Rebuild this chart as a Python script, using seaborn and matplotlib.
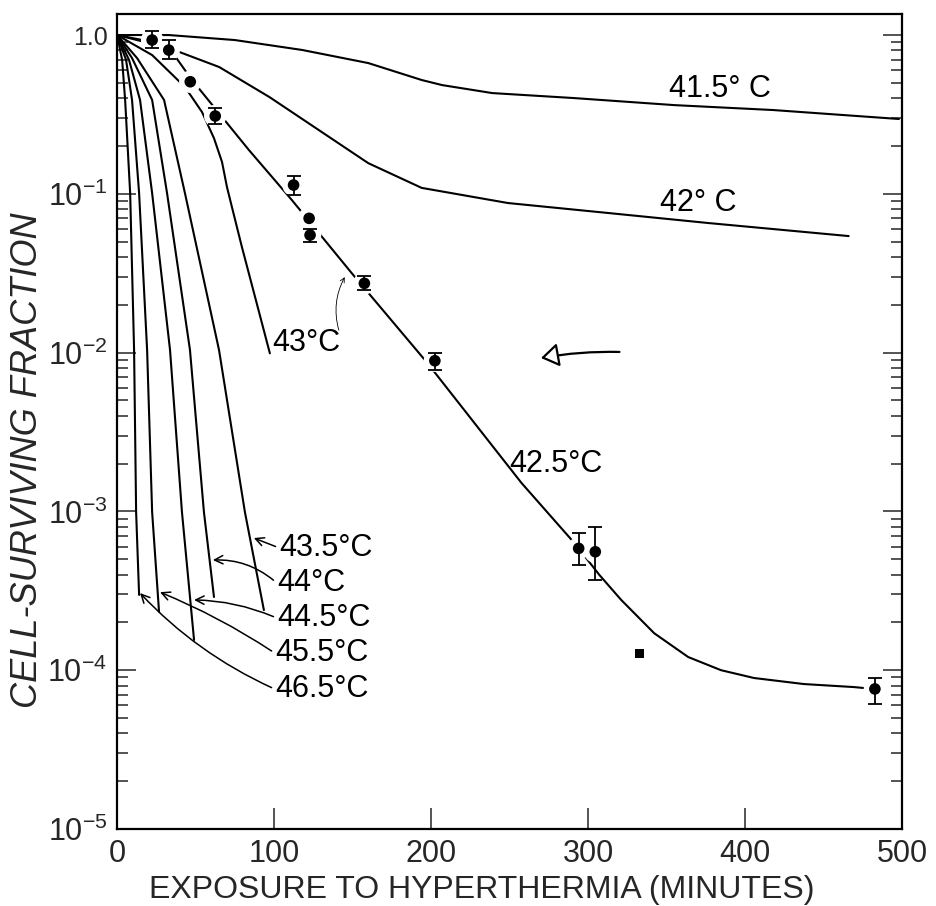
import matplotlib
matplotlib.use("Agg")
import matplotlib.pyplot as plt
import numpy as np
import pandas as pd
import seaborn as sns
from matplotlib.ticker import FixedLocator, LogLocator, NullFormatter

# --- curves: minutes vs surviving fraction ---
t_415 = [0, 33, 75, 118, 160, 194, 207, 239, 291, 355, 418, 498]
s_415 = [1.0, 1.0, 0.93, 0.805, 0.666, 0.521, 0.484, 0.431, 0.401, 0.362, 0.337, 0.296]

t_42 = [0, 33, 65, 97, 128.5, 160, 194, 249, 313, 376.5, 466]
s_42 = [1.0, 0.828, 0.629, 0.407, 0.252, 0.156, 0.109, 0.0875, 0.0757, 0.0655, 0.0542]

t_425 = [0, 22.3, 35, 47.7, 83.9, 111.3, 149.4, 197.1, 257.6, 291.3, 307.2,
         321.1, 342.1, 363.8, 384.7, 405.7, 437.5, 469.3, 482]
s_425 = [1.0, 0.904, 0.782, 0.521, 0.189, 0.0914, 0.0317, 0.00873, 0.00151,
         6.32e-4, 3.98e-4, 2.77e-4, 1.71e-4, 1.21e-4, 1.0e-4, 8.93e-5,
         8.18e-5, 7.83e-5, 7.62e-5]

t_43 = [0, 22.3, 43.2, 54.1, 61.7, 66.8, 70.0, 74.4, 79.5, 88.4, 97.3]
s_43 = [1.0, 0.748, 0.471, 0.327, 0.224, 0.159, 0.110, 0.0735, 0.0462, 0.0214, 0.0099]

t_435 = [0, 12.7, 29.9, 43.2, 64.9, 81.4, 93.5]
s_435 = [1.0, 0.716, 0.390, 0.101, 0.0104, 9.9e-4, 2.39e-4]

t_44 = [0, 9.5, 22.3, 31.8, 46.4, 55.3, 61.7]
s_44 = [1.0, 0.716, 0.390, 0.101, 0.0104, 9.9e-4, 2.89e-4]

t_445 = [0, 7.6, 14.6, 22.3, 33.7, 41.3, 49.0]
s_445 = [1.0, 0.696, 0.390, 0.101, 0.0104, 9.9e-4, 1.55e-4]

t_455 = [0, 5.7, 9.5, 14.0, 19.1, 22.3, 26.7]
s_455 = [1.0, 0.696, 0.390, 0.101, 0.0104, 9.9e-4, 2.33e-4]

t_465 = [0, 3.2, 5.1, 8.3, 10.8, 12.1, 14.0]
s_465 = [1.0, 0.696, 0.390, 0.101, 0.0104, 9.9e-4, 2.98e-4]

# --- 42.5 C measured points with error bars ---
pt_t = [22.3, 32.9, 46.6, 62.5, 112.4, 122.3, 122.9, 157.5, 202.4, 294.0, 304.6, 482.7]
pt_s = [0.930, 0.804, 0.508, 0.309, 0.1136, 0.0701, 0.055, 0.0273, 0.00889,
        5.85e-4, 5.57e-4, 7.62e-5]
pt_lo = [0.824, 0.703, np.nan, 0.275, 0.0983, np.nan, 0.0499, 0.0248, 0.00777,
         4.6e-4, 3.70e-4, 6.1e-5]
pt_hi = [1.064, 0.930, np.nan, 0.345, 0.129, np.nan, 0.060, 0.0304, 0.00989,
         7.35e-4, 7.94e-4, 8.89e-5]
sq_t = [332.8]
sq_s = [1.28e-4]

y_ticks = [1e-5, 1e-4, 1e-3, 1e-2, 1e-1, 1.0]
y_ticklabels = [r"$\mathregular{10^{-5}}$", r"$\mathregular{10^{-4}}$",
                r"$\mathregular{10^{-3}}$", r"$\mathregular{10^{-2}}$",
                r"$\mathregular{10^{-1}}$", "1.0"]
x_ticks = [0, 100, 200, 300, 400, 500]

sns.set_style("white")
plt.rcParams["font.family"] = ["Liberation Sans", "DejaVu Sans"]
plt.rcParams["axes.edgecolor"] = "black"

fig = plt.figure(figsize=(9.37, 9.06), dpi=100)
ax = fig.add_axes([0.125, 0.085, 0.8377, 0.8995])

curves = [(t_415, s_415), (t_42, s_42), (t_425, s_425), (t_43, s_43),
          (t_435, s_435), (t_44, s_44), (t_445, s_445), (t_455, s_455),
          (t_465, s_465)]
for t, s in curves:
    sns.lineplot(x=t, y=s, ax=ax, color="black", lw=1.5, sort=False,
                 estimator=None, zorder=2)

pts = pd.DataFrame({"t": pt_t, "s": pt_s, "lo": pt_lo, "hi": pt_hi})
# white halo so the line breaks around each point like the original
sns.scatterplot(data=pts, x="t", y="s", ax=ax, s=260, color="white",
                edgecolor="none", zorder=3)
eb = pts.dropna()
ax.errorbar(eb["t"], eb["s"], yerr=[eb["s"] - eb["lo"], eb["hi"] - eb["s"]],
            fmt="none", ecolor="black", elinewidth=1.3, capsize=5,
            capthick=1.3, zorder=4)
sns.scatterplot(data=pts, x="t", y="s", ax=ax, s=70, color="black",
                edgecolor="none", zorder=5)
sns.scatterplot(x=sq_t, y=sq_s, ax=ax, s=45, marker="s", color="black",
                edgecolor="none", zorder=5)

ax.set_yscale("log")
ax.set_xlim(0, 500)
ax.set_ylim(1e-5, 1.356)

ax.xaxis.set_major_locator(FixedLocator(x_ticks))
ax.set_xticklabels([str(v) for v in x_ticks])
ax.yaxis.set_major_locator(FixedLocator(y_ticks))
ax.set_yticklabels(y_ticklabels)
ax.yaxis.set_minor_locator(LogLocator(base=10, subs=np.arange(2, 10)))
ax.yaxis.set_minor_formatter(NullFormatter())

ax.tick_params(axis="x", which="major", direction="in", length=15, width=1.1,
               labelsize=22, pad=7, top=False, bottom=True)
ax.tick_params(axis="y", which="major", direction="in", length=14, width=1.1,
               labelsize=22, pad=7, left=True, right=True)
ax.tick_params(axis="y", which="minor", direction="in", length=8, width=1.1,
               left=True, right=True)
ax.get_yticklabels()[-1].set_fontsize(18)

for sp in ax.spines.values():
    sp.set_linewidth(1.6)
    sp.set_color("black")

ax.set_xlabel("EXPOSURE TO HYPERTHERMIA (MINUTES)", fontsize=23)
ax.set_ylabel("CELL-SURVIVING FRACTION", fontsize=26, style="italic")
ax.xaxis.set_label_coords(0.465, -0.057)
ax.yaxis.set_label_coords(-0.092, 0.453)

# curve labels
lab = dict(fontsize=22, color="black", va="center")
ax.text(384, 0.457, "41.5° C", ha="center", **lab)
ax.text(370, 0.0875, "42° C", ha="center", **lab)
ax.text(250, 2.0e-3, "42.5°C", ha="left", **lab)
ax.text(99, 0.0115, "43°C", ha="left", **lab)

leaders = [
    ("43.5°C", (87.1, 6.8e-4), (103, 5.9e-4), 0.0),
    ("44°C", (61.0, 4.94e-4), (101.7, 3.54e-4), 0.2),
    ("44.5°C", (49.0, 2.77e-4), (101.7, 2.13e-4), 0.1),
    ("45.5°C", (27.3, 3.1e-4), (100.5, 1.28e-4), 0.05),
    ("46.5°C", (14.6, 3.06e-4), (100.5, 7.6e-5), -0.1),
]
for txt, tip, pos, rad in leaders:
    ax.annotate(txt, xy=tip, xytext=pos, ha="left", **lab,
                arrowprops=dict(arrowstyle="->,head_length=0.5,head_width=0.25",
                                lw=1.1, color="black", mutation_scale=12,
                                relpos=(0, 0.5), shrinkA=0, shrinkB=0,
                                connectionstyle=f"arc3,rad={rad}"))

# thin pen leader from the 43 C label and the hand drawn arrow
ax.annotate("", xy=(145, 0.0299), xytext=(141.2, 0.01387),
            arrowprops=dict(arrowstyle="->", lw=0.6, color="black",
                            mutation_scale=8, shrinkA=0, shrinkB=0,
                            connectionstyle="arc3,rad=-0.2"))
ax.annotate("", xy=(270, 0.00925), xytext=(320, 0.0101),
            arrowprops=dict(arrowstyle="-|>,head_length=0.6,head_width=0.4",
                            lw=1.6, ec="black", fc="white",
                            mutation_scale=18, shrinkA=0, shrinkB=0,
                            connectionstyle="arc3,rad=0.05"))

fig.savefig("out.png", dpi=100)
